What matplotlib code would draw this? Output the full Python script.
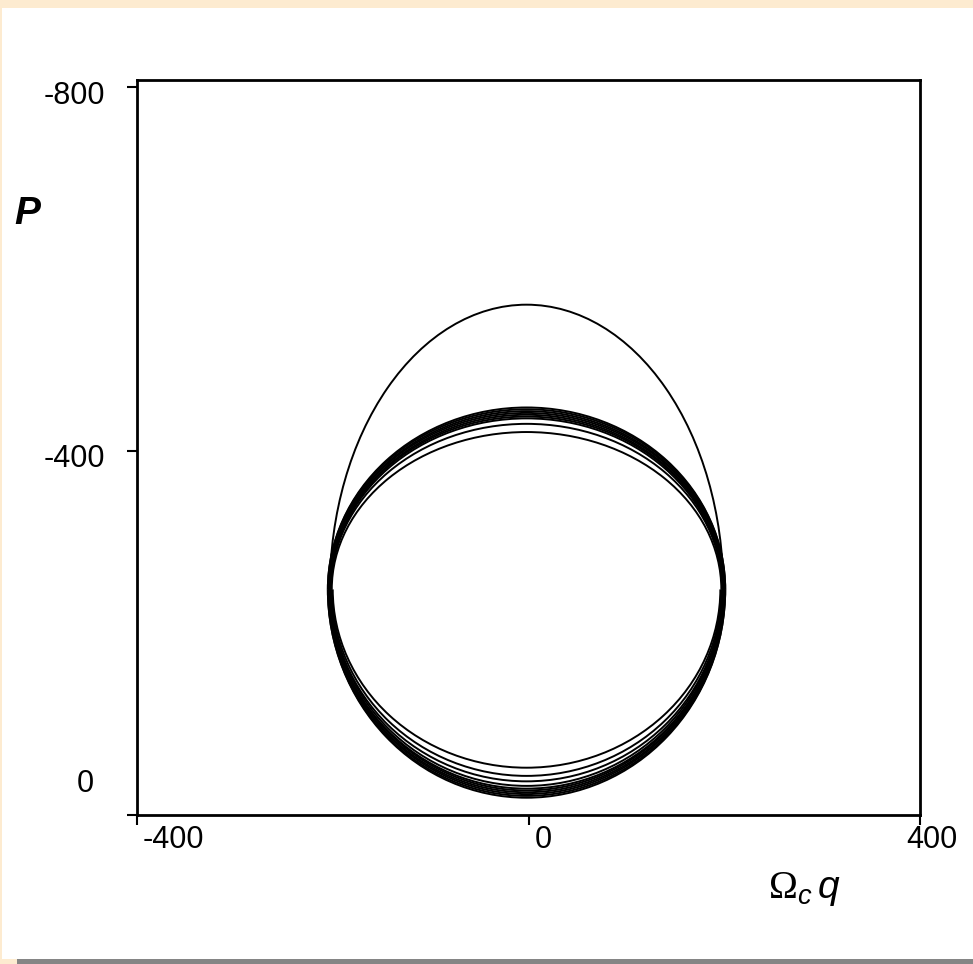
import matplotlib
matplotlib.use("Agg")
import matplotlib.pyplot as plt
from matplotlib.patches import Arc, Rectangle
from matplotlib.transforms import ScaledTranslation

# phase-space loops: every loop passes through the
# same left/right turning points, only the upper/lower extremes differ
loop_center_q = -2
loop_center_p = -248
upper_p = [-561, -448, -446, -444, -442, -440, -438, -436, -430, -421]
upper_halfwidth = [201, 203, 203, 202, 202, 201, 201, 200, 200, 199]
lower_p = [-19, -21, -23, -25, -27, -29, -32, -37, -43, -52]
lower_halfwidth = [203, 203, 202, 202, 201, 201, 200, 200, 199, 198]

x_ticks = [-400, 0, 400]
y_ticks = [-800, -400, 0]
x_ticklabels = ["-400", "0", "400"]
y_ticklabels = ["-800", "-400", "0"]

BEIGE = "#fdebd0"
GREY = "#858585"

plt.rcParams["font.family"] = ["Liberation Sans", "DejaVu Sans"]
plt.rcParams["mathtext.fontset"] = "custom"
plt.rcParams["mathtext.rm"] = "Liberation Serif"
plt.rcParams["mathtext.it"] = "Liberation Sans:italic"

W, H = 973, 964
fig = plt.figure(figsize=(W / 100, H / 100), dpi=100, facecolor="white")
ax = fig.add_axes([137 / W, 1 - 815 / H, (920 - 137) / W, (815 - 80) / H])

for p, w in zip(upper_p, upper_halfwidth):
    ax.add_patch(Arc((loop_center_q, loop_center_p), 2 * w, 2 * abs(p - loop_center_p),
                     theta1=180, theta2=360, color="black", lw=1.4))
for p, w in zip(lower_p, lower_halfwidth):
    ax.add_patch(Arc((loop_center_q, loop_center_p), 2 * w, 2 * abs(p - loop_center_p),
                     theta1=0, theta2=180, color="black", lw=1.4))

ax.set_xlim(-400, 400)
ax.set_ylim(0, -808)

for s in ax.spines.values():
    s.set_linewidth(2.0)

ax.set_xticks(x_ticks)
ax.set_xticklabels(x_ticklabels, fontsize=22)
ax.set_yticks(y_ticks)
ax.set_yticklabels(y_ticklabels, fontsize=22)
ax.tick_params(axis="x", direction="out", length=7.5, width=1.5, pad=0)
ax.tick_params(axis="y", direction="out", length=7, width=1.5, pad=16)

# the scanned labels sit a little off their ticks
x_offsets = [(36, 0), (15, 0), (12, 0)]
y_offsets = [(0, -5), (0, -4), (-11, 35)]
for lab, (dx, dy) in zip(ax.get_xticklabels(), x_offsets):
    lab.set_transform(lab.get_transform() + ScaledTranslation(dx / 100, dy / 100, fig.dpi_scale_trans))
for lab, (dx, dy) in zip(ax.get_yticklabels(), y_offsets):
    lab.set_transform(lab.get_transform() + ScaledTranslation(dx / 100, dy / 100, fig.dpi_scale_trans))

fig.text(27 / W, 1 - 214 / H, "P", fontsize=28, fontweight="bold", fontstyle="italic",
         ha="center", va="center")
fig.text(768 / W, 1 - 898 / H, r"$\Omega_{c}\,q$", fontsize=28, ha="left", va="baseline")

# page border of the scan
fig.add_artist(Rectangle((0, 1 - 8 / H), 1, 8 / H, transform=fig.transFigure,
                         facecolor=BEIGE, edgecolor="none"))
fig.add_artist(Rectangle((0, 0), 2 / W, 1, transform=fig.transFigure,
                         facecolor=BEIGE, edgecolor="none"))
fig.add_artist(Rectangle((0, 0), 17 / W, 5 / H, transform=fig.transFigure,
                         facecolor=BEIGE, edgecolor="none"))
fig.add_artist(Rectangle((17 / W, 0), 1, 5 / H, transform=fig.transFigure,
                         facecolor=GREY, edgecolor="none"))

fig.savefig("out.png", dpi=100, facecolor=fig.get_facecolor())
